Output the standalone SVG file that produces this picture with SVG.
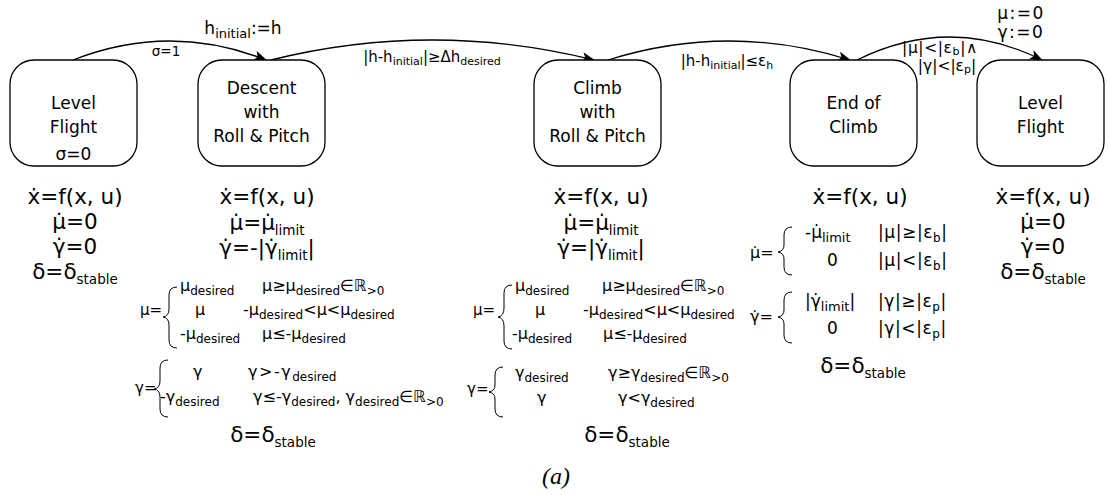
<svg xmlns="http://www.w3.org/2000/svg" width="1109" height="495" viewBox="0 0 1109 495">
  <defs>
    <marker id="arrow" markerWidth="13" markerHeight="10" refX="12" refY="5" orient="auto" markerUnits="userSpaceOnUse">
      <path d="M0,0 L13,5 L0,10 L3,5 Z" fill="#000"/>
    </marker>
  </defs>
  <style>
    .t { font-family: 'DejaVu Sans', 'Liberation Sans', sans-serif; fill: #000; }
    .node rect { fill: #fff; stroke: #000; stroke-width: 1.3; }
    .n { font-size: 17px; text-anchor: middle; }
    .eq { font-size: 21.5px; text-anchor: middle; }
    .pw { font-size: 16px; }
    .pw2 { font-size: 17px; }
    .lbl { font-size: 15px; text-anchor: middle; }
    .edge { fill: none; stroke: #000; stroke-width: 1.3; marker-end: url(#arrow); }
    .brace { fill: none; stroke: #000; stroke-width: 1; }
    .ns { letter-spacing: 0; }
    .cap { font-family: 'Liberation Serif', serif; font-style: italic; font-size: 24px; text-anchor: middle; }
  </style>

  <!-- transitions -->
  <g id="connectors">
    <path class="edge" d="M73,60 Q170,22 266,60"/>
    <path class="edge" d="M271,60 Q432,20 594,60"/>
    <path class="edge" d="M608,60 Q729,22 850,60"/>
    <path class="edge" d="M857,60 Q950,14 1042,60"/>
    <text class="t" x="243" y="34" style="font-size:17px;text-anchor:middle">h<tspan font-size="13" dy="4">initial</tspan><tspan dy="-4">:=h</tspan></text>
    <text class="t" x="166" y="56" style="font-size:13.5px;text-anchor:middle">σ=1</text>
    <text class="t lbl" x="432" y="62">|h-h<tspan font-size="11" dy="3">initial</tspan><tspan dy="-3">|≥Δh</tspan><tspan font-size="11" dy="3">desired</tspan></text>
    <text class="t lbl" x="727" y="66">|h-h<tspan font-size="11" dy="3">initial</tspan><tspan dy="-3">|≤ε</tspan><tspan font-size="11" dy="3">h</tspan></text>
    <text class="t" x="1021" y="19" style="font-size:17px;text-anchor:middle;letter-spacing:1.5px">μ:=0</text>
    <text class="t" x="1021" y="38" style="font-size:17px;text-anchor:middle;letter-spacing:1.5px">γ:=0</text>
    <text class="t" x="940" y="53" style="font-size:15.5px;text-anchor:middle;letter-spacing:0.6px">|μ|&lt;|ε<tspan font-size="11" dy="2">b</tspan><tspan dy="-2">|∧</tspan></text>
    <text class="t" x="947" y="71" style="font-size:15.5px;text-anchor:middle">|γ|&lt;|ε<tspan font-size="11" dy="2">p</tspan><tspan dy="-2">|</tspan></text>
  </g>

  <!-- states -->
  <g id="level-flight-start" class="node">
    <rect x="10" y="60" width="127" height="106" rx="24"/>
    <text class="t n" x="73.5" y="109">Level</text>
    <text class="t n" x="73.5" y="133">Flight</text>
    <text class="t n" x="73.5" y="160">σ=0</text>
  </g>
  <g id="descent" class="node">
    <rect x="198" y="60" width="127" height="106" rx="24"/>
    <text class="t n" x="261.5" y="94">Descent</text>
    <text class="t n" x="261.5" y="118">with</text>
    <text class="t n" x="261.5" y="142">Roll &amp; Pitch</text>
  </g>
  <g id="climb" class="node">
    <rect x="534" y="60" width="127" height="106" rx="24"/>
    <text class="t n" x="597.5" y="94">Climb</text>
    <text class="t n" x="597.5" y="118">with</text>
    <text class="t n" x="597.5" y="142">Roll &amp; Pitch</text>
  </g>
  <g id="end-of-climb" class="node">
    <rect x="790" y="60" width="127" height="106" rx="24"/>
    <text class="t n" x="853.5" y="109">End of</text>
    <text class="t n" x="853.5" y="133">Climb</text>
  </g>
  <g id="level-flight-end" class="node">
    <rect x="977" y="60" width="127" height="106" rx="24"/>
    <text class="t n" x="1040.5" y="109">Level</text>
    <text class="t n" x="1040.5" y="133">Flight</text>
  </g>

  <!-- dynamics of each state -->
  <g id="eq-level-start">
    <text class="t eq" x="75" y="204">ẋ=f(x, u)</text>
    <text class="t eq" x="75" y="229">μ̇=0</text>
    <text class="t eq" x="75" y="254">γ̇=0</text>
    <text class="t eq" x="75" y="279">δ=δ<tspan font-size="13.5" dy="5">stable</tspan></text>
  </g>

  <g id="eq-descent">
    <text class="t eq" x="267" y="204">ẋ=f(x, u)</text>
    <text class="t eq" x="267" y="230">μ̇=μ̇<tspan font-size="13.5" dy="5">limit</tspan></text>
    <text class="t eq" x="267" y="255">γ̇=-|γ̇<tspan font-size="13.5" dy="5">limit</tspan><tspan dy="-5">|</tspan></text>
    <text class="t" x="140" y="315" style="font-size:15px">μ=</text>
    <path class="brace" d="M177,287 Q169,287 169,295 L169,309 Q169,316 163,317 Q169,318 169,325 L169,340 Q169,348 177,348"/>
    <text class="t pw" x="180" y="291">μ<tspan font-size="12" dy="4">desired</tspan></text>
    <text class="t pw" x="262" y="291">μ≥μ<tspan font-size="12" dy="4">desired</tspan><tspan dy="-4">∈ℝ</tspan><tspan font-size="12" dy="4">&gt;0</tspan></text>
    <text class="t pw" x="195" y="315">μ</text>
    <text class="t pw" x="243" y="315">-μ<tspan font-size="12" dy="4">desired</tspan><tspan dy="-4">&lt;μ&lt;μ</tspan><tspan font-size="12" dy="4">desired</tspan></text>
    <text class="t pw" x="180" y="339">-μ<tspan font-size="12" dy="4">desired</tspan></text>
    <text class="t pw" x="262" y="339">μ≤-μ<tspan font-size="12" dy="4">desired</tspan></text>
    <text class="t" x="135" y="393" style="font-size:15px">γ=</text>
    <path class="brace" d="M168,360 Q160,360 160,368 L160,381 Q160,388 154,389 Q160,390 160,397 L160,409 Q160,417 168,417"/>
    <text class="t pw" x="193" y="377">γ</text>
    <text class="t pw" x="248" y="377" style="letter-spacing:1.5px">γ&gt;-γ<tspan class="ns" font-size="12" dy="4">desired</tspan></text>
    <text class="t pw" x="160" y="402">-γ<tspan font-size="12" dy="4">desired</tspan></text>
    <text class="t pw" x="253" y="402">γ≤-γ<tspan font-size="12" dy="4">desired</tspan><tspan dy="-4">, γ</tspan><tspan font-size="12" dy="4">desired</tspan><tspan dy="-4">∈ℝ</tspan><tspan font-size="12" dy="4">&gt;0</tspan></text>
    <text class="t eq" x="273" y="442">δ=δ<tspan font-size="13.5" dy="5">stable</tspan></text>
  </g>

  <g id="eq-climb">
    <text class="t eq" x="601" y="204">ẋ=f(x, u)</text>
    <text class="t eq" x="601" y="230">μ̇=μ̇<tspan font-size="13.5" dy="5">limit</tspan></text>
    <text class="t eq" x="601" y="255">γ̇=|γ̇<tspan font-size="13.5" dy="5">limit</tspan><tspan dy="-5">|</tspan></text>
    <text class="t" x="473" y="315" style="font-size:15px">μ=</text>
    <path class="brace" d="M512,285 Q504,285 504,293 L504,308 Q504,316 498,317 Q504,318 504,326 L504,341 Q504,349 512,349"/>
    <text class="t pw" x="515" y="291">μ<tspan font-size="12" dy="4">desired</tspan></text>
    <text class="t pw" x="602" y="291">μ≥μ<tspan font-size="12" dy="4">desired</tspan><tspan dy="-4">∈ℝ</tspan><tspan font-size="12" dy="4">&gt;0</tspan></text>
    <text class="t pw" x="535" y="315">μ</text>
    <text class="t pw" x="583" y="315">-μ<tspan font-size="12" dy="4">desired</tspan><tspan dy="-4">&lt;μ&lt;μ</tspan><tspan font-size="12" dy="4">desired</tspan></text>
    <text class="t pw" x="512" y="339">-μ<tspan font-size="12" dy="4">desired</tspan></text>
    <text class="t pw" x="603" y="339">μ≤-μ<tspan font-size="12" dy="4">desired</tspan></text>
    <text class="t" x="467" y="394" style="font-size:15px">γ=</text>
    <path class="brace" d="M503,367 Q495,367 495,375 L495,385 Q495,391 489,392 Q495,393 495,399 L495,409 Q495,417 503,417"/>
    <text class="t pw" x="515" y="378">γ<tspan font-size="12" dy="4">desired</tspan></text>
    <text class="t pw" x="608" y="378">γ≥γ<tspan font-size="12" dy="4">desired</tspan><tspan dy="-4">∈ℝ</tspan><tspan font-size="12" dy="4">&gt;0</tspan></text>
    <text class="t pw" x="537" y="403">γ</text>
    <text class="t pw" x="618" y="403">γ&lt;γ<tspan font-size="12" dy="4">desired</tspan></text>
    <text class="t eq" x="627" y="442">δ=δ<tspan font-size="13.5" dy="5">stable</tspan></text>
  </g>

  <g id="eq-end-of-climb">
    <text class="t eq" x="860" y="204">ẋ=f(x, u)</text>
    <text class="t" x="750" y="258" style="font-size:16px">μ̇=</text>
    <path class="brace" d="M792,227 Q784,227 784,235 L784,245 Q784,251 778,252 Q784,253 784,259 L784,267 Q784,275 792,275"/>
    <text class="t pw2" x="805" y="238">-μ̇<tspan font-size="13" dy="4">limit</tspan></text>
    <text class="t pw2" x="878" y="238" style="letter-spacing:0.6px">|μ|≥|ε<tspan font-size="12" dy="4">b</tspan><tspan dy="-4">|</tspan></text>
    <text class="t pw2" x="827" y="266">0</text>
    <text class="t pw2" x="878" y="266" style="letter-spacing:0.6px">|μ|&lt;|ε<tspan font-size="12" dy="4">b</tspan><tspan dy="-4">|</tspan></text>
    <text class="t" x="750" y="322" style="font-size:16px">γ̇=</text>
    <path class="brace" d="M792,292 Q784,292 784,300 L784,310 Q784,316 778,317 Q784,318 784,324 L784,335 Q784,343 792,343"/>
    <text class="t pw2" x="805" y="307">|γ̇<tspan font-size="13" dy="4">limit</tspan><tspan dy="-4">|</tspan></text>
    <text class="t pw2" x="878" y="307" style="letter-spacing:0.6px">|γ|≥|ε<tspan font-size="12" dy="4">p</tspan><tspan dy="-4">|</tspan></text>
    <text class="t pw2" x="827" y="334">0</text>
    <text class="t pw2" x="878" y="334" style="letter-spacing:0.6px">|γ|&lt;|ε<tspan font-size="12" dy="4">p</tspan><tspan dy="-4">|</tspan></text>
    <text class="t eq" x="863" y="373">δ=δ<tspan font-size="13.5" dy="5">stable</tspan></text>
  </g>

  <g id="eq-level-end">
    <text class="t eq" x="1043" y="204">ẋ=f(x, u)</text>
    <text class="t eq" x="1043" y="229">μ̇=0</text>
    <text class="t eq" x="1043" y="254">γ̇=0</text>
    <text class="t eq" x="1043" y="279">δ=δ<tspan font-size="13.5" dy="5">stable</tspan></text>
  </g>

  <text class="cap" x="556" y="484">(a)</text>
</svg>
